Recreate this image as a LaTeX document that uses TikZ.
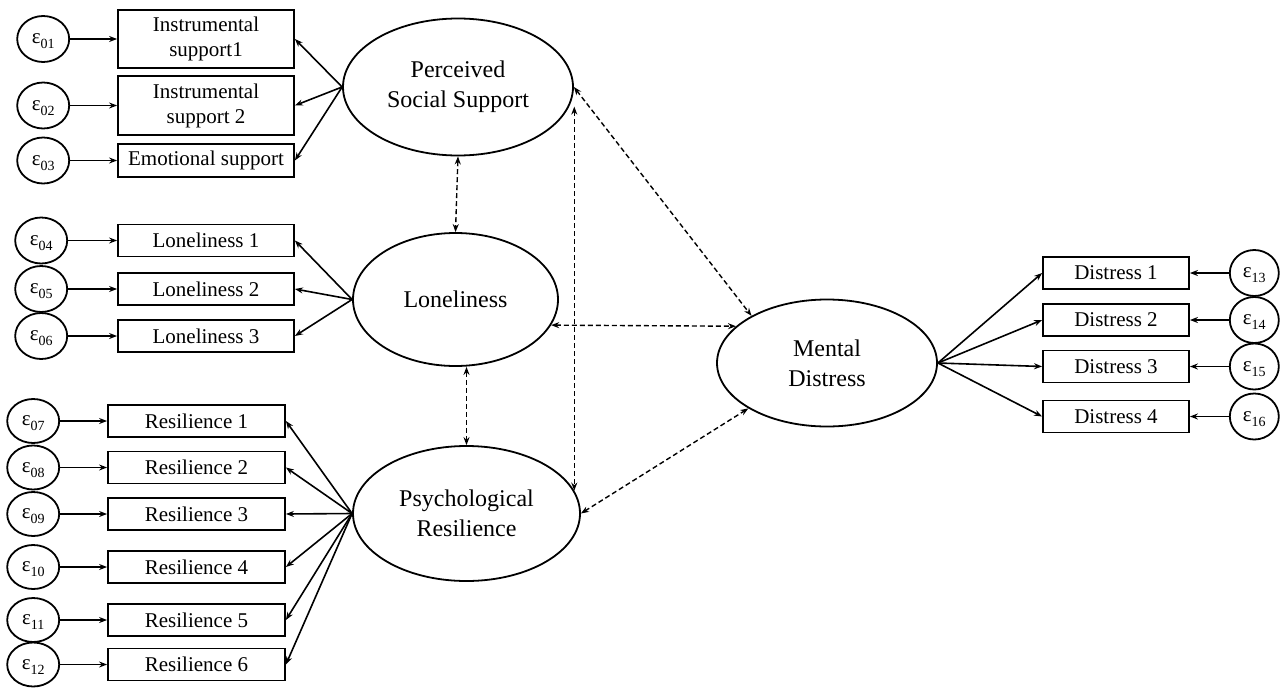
\documentclass[tikz,border=0pt]{standalone}
\usepackage{fontspec}
\setmainfont{Liberation Serif}
\usetikzlibrary{positioning,shapes.geometric,arrows.meta}
\newcommand{\errlabel}[1]{ε\raisebox{-5pt}[0pt][0pt]{\fontsize{14}{14}\selectfont #1}}

\begin{document}
\begin{tikzpicture}[x=1pt, y=-1pt, >={Stealth[length=8pt,width=6pt]},
		latent/.style={ellipse, draw=black, line width=1.8pt, inner sep=0pt, align=center, font=\fontsize{24}{30}\selectfont},
		item/.style={rectangle, draw=black, line width=1.8pt, inner sep=0pt, minimum height=32pt, align=center, font=\fontsize{21}{25}\selectfont},
		errvar/.style={ellipse, draw=black, line width=1.8pt, inner sep=0pt, minimum width=52pt, minimum height=46pt, font=\fontsize{21}{21}\selectfont},
		load/.style={line width=1.6pt, ->},
		corr/.style={line width=1.4pt, dash pattern=on 5pt off 3pt, <->}
	]
	\useasboundingbox (0,0) rectangle (1282,699);
	% latent variables
	\node[latent, minimum width=230pt, minimum height=137pt] (socsupport) at (458,87) {Perceived\\Social Support};
	\node[latent, minimum width=205pt, minimum height=133pt] (loneliness) at (455.5,299.5) {Loneliness};
	\node[latent, minimum width=227pt, minimum height=135pt] (resilience) at (466.5,513.5) {Psychological\\Resilience};
	\node[latent, minimum width=220pt, minimum height=127pt] (distress) at (827,363) {Mental\\Distress};
	% indicators
	\node[item, minimum width=176pt, minimum height=58pt] (instrone) at (206,39) {Instrumental\\support1};
	\node[item, minimum width=176pt, minimum height=59pt] (instrtwo) at (206,105.5) {Instrumental\\support 2};
	\node[item, minimum width=176pt, minimum height=33pt] (emotional) at (206,160.5) {Emotional support};
	\node[item, minimum width=176pt] (loneone) at (206,240.5) {Loneliness 1};
	\node[item, minimum width=176pt] (lonetwo) at (206,289) {Loneliness 2};
	\node[item, minimum width=176pt] (lonethree) at (206,336) {Loneliness 3};
	\node[item, minimum width=177pt] (resone) at (196.5,421) {Resilience 1};
	\node[item, minimum width=177pt] (restwo) at (196.5,467.5) {Resilience 2};
	\node[item, minimum width=177pt] (resthree) at (196.5,514) {Resilience 3};
	\node[item, minimum width=177pt] (resfour) at (196.5,567) {Resilience 4};
	\node[item, minimum width=177pt] (resfive) at (196.5,620) {Resilience 5};
	\node[item, minimum width=177pt] (ressix) at (196.5,664.5) {Resilience 6};
	\node[item, minimum width=146pt] (distone) at (1116,273) {Distress 1};
	\node[item, minimum width=146pt] (disttwo) at (1116,320) {Distress 2};
	\node[item, minimum width=146pt] (distthree) at (1116,366.5) {Distress 3};
	\node[item, minimum width=146pt] (distfour) at (1116,416.5) {Distress 4};
	% error terms
	\node[errvar] (eone) [left=47pt of instrone] {\errlabel{01}};
	\node[errvar] (etwo) [left=47pt of instrtwo] {\errlabel{02}};
	\node[errvar] (ethree) [left=47pt of emotional] {\errlabel{03}};
	\node[errvar] (efour) [left=49pt of loneone] {\errlabel{04}};
	\node[errvar] (efive) [left=49pt of lonetwo] {\errlabel{05}};
	\node[errvar] (esix) [left=49pt of lonethree] {\errlabel{06}};
	\node[errvar, minimum height=44pt] (eseven) [left=47pt of resone] {\errlabel{07}};
	\node[errvar, minimum height=44pt] (eeight) [left=47pt of restwo] {\errlabel{08}};
	\node[errvar, minimum height=44pt] (enine) [left=47pt of resthree] {\errlabel{09}};
	\node[errvar, minimum height=44pt] (eten) [left=47pt of resfour] {\errlabel{10}};
	\node[errvar, minimum height=44pt] (eeleven) [left=47pt of resfive] {\errlabel{11}};
	\node[errvar, minimum height=44pt] (etwelve) [left=47pt of ressix] {\errlabel{12}};
	\node[errvar, minimum width=49pt] (ethirteen) [right=39pt of distone] {\errlabel{13}};
	\node[errvar, minimum width=49pt] (efourteen) [right=39pt of disttwo] {\errlabel{14}};
	\node[errvar, minimum width=49pt] (efifteen) [right=39pt of distthree] {\errlabel{15}};
	\node[errvar, minimum width=49pt] (esixteen) [right=39pt of distfour] {\errlabel{16}};
	% error paths
	\draw[load] (eone) -- (eone -| instrone.west);
	\draw[load] (etwo) -- (etwo -| instrtwo.west);
	\draw[load] (ethree) -- (ethree -| emotional.west);
	\draw[load] (efour) -- (efour -| loneone.west);
	\draw[load] (efive) -- (efive -| lonetwo.west);
	\draw[load] (esix) -- (esix -| lonethree.west);
	\draw[load] (eseven) -- (eseven -| resone.west);
	\draw[load] (eeight) -- (eeight -| restwo.west);
	\draw[load] (enine) -- (enine -| resthree.west);
	\draw[load] (eten) -- (eten -| resfour.west);
	\draw[load] (eeleven) -- (eeleven -| resfive.west);
	\draw[load] (etwelve) -- (etwelve -| ressix.west);
	\draw[load] (ethirteen) -- (ethirteen -| distone.east);
	\draw[load] (efourteen) -- (efourteen -| disttwo.east);
	\draw[load] (efifteen) -- (efifteen -| distthree.east);
	\draw[load] (esixteen) -- (esixteen -| distfour.east);
	% loadings
	\draw[load] (socsupport.west) -- (instrone.east);
	\draw[load] (socsupport.west) -- (instrtwo.east);
	\draw[load] (socsupport.west) -- (emotional.east);
	\draw[load] (loneliness.west) -- (loneone.east);
	\draw[load] (loneliness.west) -- (lonetwo.east);
	\draw[load] (loneliness.west) -- (lonethree.east);
	\draw[load] (resilience.west) -- (resone.east);
	\draw[load] (resilience.west) -- (restwo.east);
	\draw[load] (resilience.west) -- (resthree.east);
	\draw[load] (resilience.west) -- (resfour.east);
	\draw[load] (resilience.west) -- (resfive.east);
	\draw[load] (resilience.west) -- (ressix.east);
	\draw[load] (distress.east) -- (distone.west);
	\draw[load] (distress.east) -- (disttwo.west);
	\draw[load] (distress.east) -- (distthree.west);
	\draw[load] (distress.east) -- (distfour.west);
	% covariances
	\coordinate (sstop) at (resilience.12 |- socsupport.-10);
	\draw[corr] (socsupport.south) -- (loneliness.north);
	\draw[corr] (loneliness.south -| resilience.north) -- (resilience.north);
	\draw[corr] (sstop) -- (resilience.12);
	\draw[corr] (socsupport.east) -- (distress.148);
	\draw[corr] (loneliness.-15) -- (distress.158);
	\draw[corr] (resilience.east) -- (distress.210);
\end{tikzpicture}
\end{document}
